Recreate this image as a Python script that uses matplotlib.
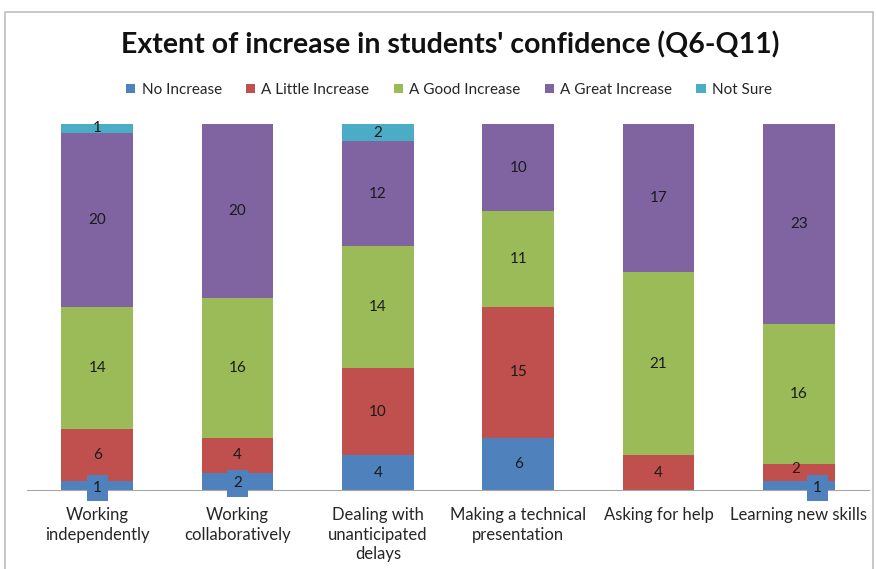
import matplotlib

matplotlib.use("Agg")
import matplotlib.pyplot as plt
import numpy as np
from matplotlib.patches import Rectangle

categories = ["Working\nindependently", "Working\ncollaboratively", "Dealing with\nunanticipated\ndelays",
              "Making a technical\npresentation", "Asking for help", "Learning new skills"]
series = ["No Increase", "A Little Increase", "A Good Increase", "A Great Increase", "Not Sure"]
no_increase = [1, 2, 4, 6, 0, 1]
little_increase = [6, 4, 10, 15, 4, 2]
good_increase = [14, 16, 14, 11, 21, 16]
great_increase = [20, 20, 12, 10, 17, 23]
not_sure = [1, 0, 2, 0, 0, 0]

colors = ["#4F81BD", "#C0504D", "#9BBB59", "#8064A2", "#4BACC6"]
FONT = ["Lato", "DejaVu Sans"]

plt.rcParams["font.family"] = FONT

fig = plt.figure(figsize=(8.78, 5.69), dpi=100)
ax = fig.add_axes([27 / 878, (569 - 490) / 569, (869 - 27) / 878, (490 - 124) / 569])

data = [no_increase, little_increase, good_increase, great_increase, not_sure]
x = np.arange(len(categories))
bottom = np.zeros(len(categories))
for vals, name, col in zip(data, series, colors):
    vals = np.array(vals, dtype=float)
    ax.bar(x, vals, width=0.51, bottom=bottom, color=col, label=name, linewidth=0)
    for i, v in enumerate(vals):
        if v <= 0:
            continue
        cy = bottom[i] + v / 2
        cx = x[i]
        if name == "No Increase" and v <= 2:
            # small segments get a boxed label, like Excel's overlap handling
            dx = 0.13 if i == 5 else 0
            ax.text(cx + dx, cy - 0.25, f"{int(v)}", ha="center", va="center", fontsize=11,
                    color="#1a1a1a",
                    bbox=dict(boxstyle="square,pad=0.4", facecolor=col, edgecolor="none"))
        elif name == "A Little Increase" and v <= 2:
            ax.text(cx - 0.02, cy + 0.4, f"{int(v)}", ha="center", va="center", fontsize=11, color="#3a1010")
        else:
            ax.text(cx, cy, f"{int(v)}", ha="center", va="center", fontsize=11, color="#1a1a1a")
    bottom += vals

ax.set_xlim(-0.5, 5.5)
ax.set_ylim(0, 42)
ax.set_yticks([])
for s in ["top", "right", "left"]:
    ax.spines[s].set_visible(False)
ax.spines["bottom"].set_color("#a6a6a6")
ax.set_xticks(x)
ax.set_xticklabels(categories, fontsize=12, color="#262626", va="top", linespacing=1.3)
ax.tick_params(axis="x", length=0, pad=12)

fig.text(450 / 878, 1 - 45 / 569, "Extent of increase in students' confidence (Q6-Q11)", ha="center", va="center",
         fontsize=20.5, fontweight="bold", color="#111111")
fig.legend(loc="center", bbox_to_anchor=(449 / 878, 1 - 90 / 569), ncol=5, frameon=False, fontsize=11,
           handlelength=0.6, handleheight=0.6, handletextpad=0.4, columnspacing=1.6,
           labelcolor="#262626")

fig.patches.append(Rectangle((5 / 878, -0.01), 868 / 878, 1 - 12 / 569 + 0.01, transform=fig.transFigure,
                             fill=False, edgecolor="#bfbfbf", linewidth=1.2))

fig.savefig("out.png", dpi=100)
plt.close(fig)
